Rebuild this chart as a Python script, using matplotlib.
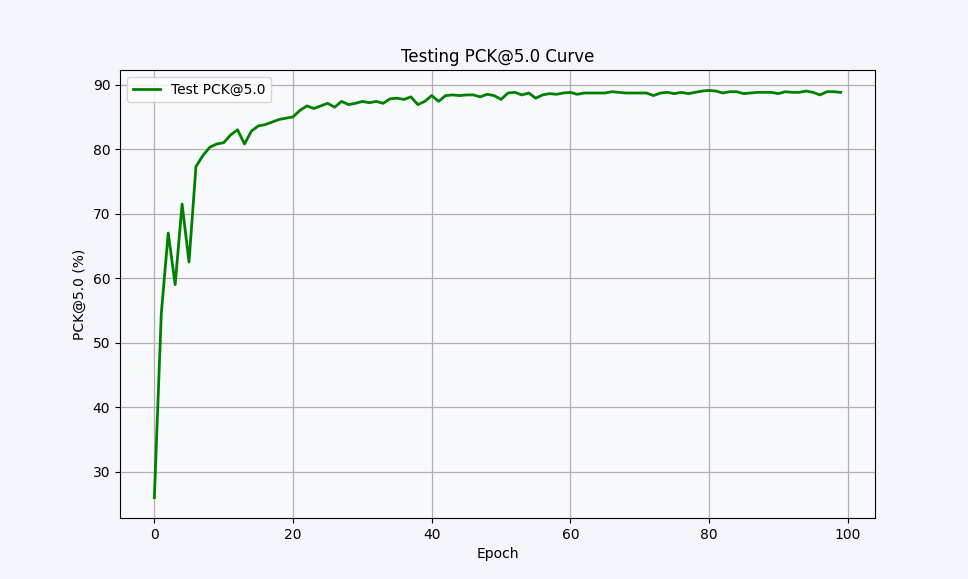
import matplotlib
matplotlib.use('Agg')
import matplotlib.pyplot as plt

# Test PCK@5.0 per epoch
epochs = list(range(100))
test_pck = [
    26.0, 54.5, 67.0, 59.0, 71.5, 62.5, 77.3, 79.0, 80.3, 80.8,
    81.0, 82.2, 83.0, 80.8, 82.8, 83.6, 83.8, 84.2, 84.6, 84.8,
    85.0, 86.0, 86.7, 86.3, 86.7, 87.1, 86.5, 87.4, 86.9, 87.1,
    87.4, 87.2, 87.4, 87.1, 87.8, 87.9, 87.7, 88.1, 86.9, 87.4,
    88.3, 87.4, 88.3, 88.4, 88.3, 88.4, 88.4, 88.1, 88.5, 88.3,
    87.7, 88.7, 88.8, 88.4, 88.7, 87.9, 88.4, 88.6, 88.5, 88.7,
    88.8, 88.5, 88.7, 88.7, 88.7, 88.7, 88.9, 88.8, 88.7, 88.7,
    88.7, 88.7, 88.3, 88.7, 88.8, 88.6, 88.8, 88.6, 88.8, 89.0,
    89.1, 89.0, 88.7, 88.9, 88.9, 88.6, 88.7, 88.8, 88.8, 88.8,
    88.6, 88.9, 88.8, 88.8, 89.0, 88.8, 88.4, 88.9, 88.9, 88.8,
]

bg = '#f4f6fb'

fig = plt.figure(figsize=(9.68, 5.79), dpi=100, facecolor=bg)
ax = fig.add_axes([0.124, 0.1054, 0.780, 0.7736])
ax.set_facecolor('#f8f9fc')

ax.plot(epochs, test_pck, color='green', linewidth=2, label='Test PCK@5.0')

ax.set_title('Testing PCK@5.0 Curve')
ax.set_xlabel('Epoch')
ax.set_ylabel('PCK@5.0 (%)')
ax.set_yticks([30, 40, 50, 60, 70, 80, 90])
ax.grid(True, color='#b0b0b0', linewidth=0.9)
ax.legend(loc='upper left')

fig.savefig('out.png', dpi=100, facecolor=bg)
